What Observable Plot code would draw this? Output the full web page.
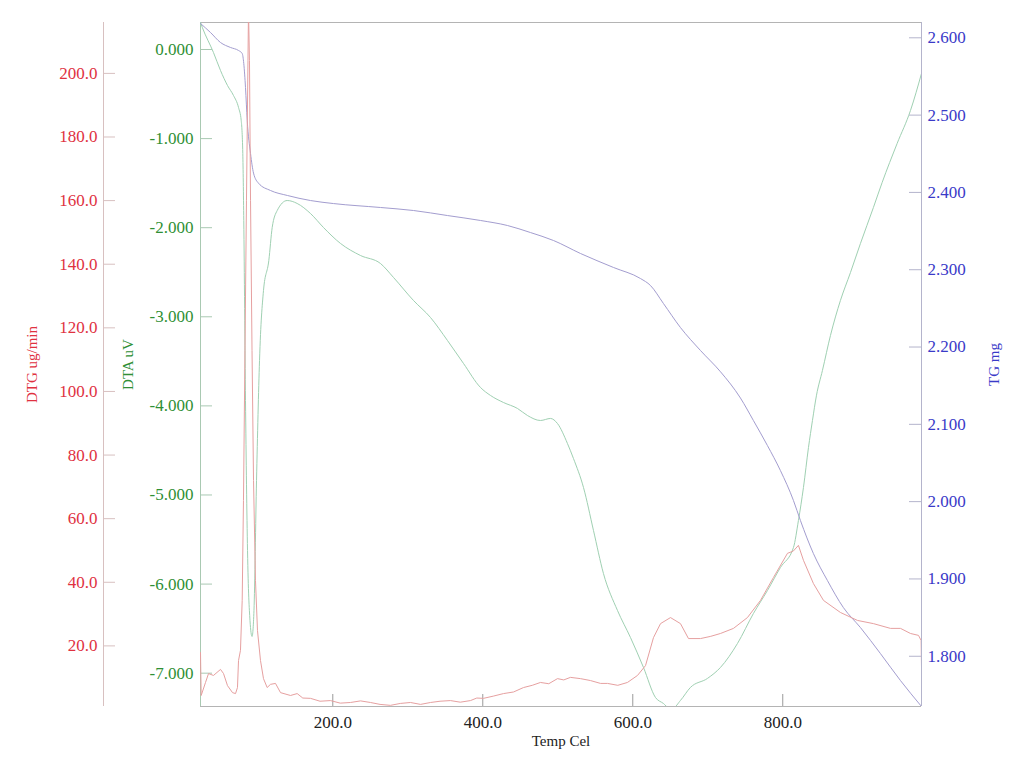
<!DOCTYPE html>
<html>
<head>
<meta charset="utf-8">
<script src="https://cdn.jsdelivr.net/npm/d3@7"></script>
<script src="https://cdn.jsdelivr.net/npm/@observablehq/plot@0.6"></script>
<style>
  html, body { margin: 0; padding: 0; background: #fff; }
  #chart { position: relative; width: 1024px; height: 766px; overflow: hidden; }
  #chart svg { position: absolute; left: 0; top: 0; }
</style>
</head>
<body>
<div id="chart"></div>
<script>
// ---------- data ----------
const xTicks = [200, 400, 600, 800];
const xDomain = [23.6, 985];

const dtgTicks = [20, 40, 60, 80, 100, 120, 140, 160, 180, 200];
const dtgDomain = [0.94, 216.0];
const dtaTicks = [0, -1, -2, -3, -4, -5, -6, -7];
const dtaDomain = [-7.374, 0.303];
const tgTicks = [1.8, 1.9, 2.0, 2.1, 2.2, 2.3, 2.4, 2.5, 2.6];
const tgDomain = [1.735, 2.6198];

// DTA (uV) vs temperature
const dtaTemp = [23.6, 25.9, 40.9, 50.3, 59.6, 67.6, 74.3, 77.9, 80.0, 81.3, 83.6, 86.3, 89.6, 92.3, 94.9, 98.3, 102.3, 107.6, 114.7, 119.2, 125.9, 139.2, 152.5, 170.3, 187.6, 210.3, 236.9, 263.6, 281.0, 307.6, 330.3, 352.9, 374.3, 396.9, 410.3, 427.6, 446.3, 459.6, 476.9, 490.3, 499.6, 512.9, 520.9, 534.3, 547.6, 560.9, 579.6, 596.9, 614.3, 630.3, 640.9, 647.6, 654.3, 663.6, 676.9, 699.6, 716.9, 739.6, 760.9, 779.6, 796.9, 814.3, 820.9, 827.6, 834.3, 839.6, 845.0, 852.9, 863.6, 876.9, 890.3, 903.6, 920.9, 932.5, 952.5, 970.3, 985];
const dtaVal = [0.303, 0.250, -0.034, -0.236, -0.404, -0.516, -0.651, -0.797, -1.167, -1.919, -3.939, -5.623, -6.409, -6.588, -6.296, -4.837, -3.490, -2.705, -2.368, -1.998, -1.807, -1.695, -1.728, -1.841, -1.998, -2.177, -2.312, -2.402, -2.559, -2.817, -3.008, -3.266, -3.524, -3.793, -3.883, -3.962, -4.029, -4.108, -4.164, -4.141, -4.198, -4.422, -4.590, -4.916, -5.398, -5.881, -6.296, -6.599, -6.936, -7.273, -7.340, -7.385, -7.385, -7.306, -7.160, -7.059, -6.936, -6.667, -6.330, -6.072, -5.814, -5.589, -5.286, -4.916, -4.467, -4.164, -3.880, -3.603, -3.210, -2.817, -2.503, -2.177, -1.773, -1.493, -1.055, -0.685, -0.269];

// TG (mg) vs temperature
const tgTemp = [23.6, 36.9, 50.3, 63.6, 74.3, 79.2, 81.3, 83.6, 85.9, 90.3, 94.3, 100.9, 116.9, 139.6, 170.3, 200.9, 263.6, 307.6, 352.9, 396.9, 432.9, 463.6, 494.3, 530.3, 574.3, 610.3, 623.6, 640.9, 663.6, 690.3, 717.0, 743.6, 760.9, 779.6, 796.9, 814.3, 823.6, 840.9, 859.6, 880.9, 903.6, 930.3, 957.0, 985];
const tgVal = [2.6185, 2.6069, 2.5939, 2.5875, 2.5836, 2.5797, 2.5668, 2.5357, 2.4931, 2.4504, 2.4250, 2.4120, 2.4025, 2.3960, 2.3895, 2.3856, 2.3805, 2.3766, 2.3701, 2.3637, 2.3572, 2.3481, 2.3378, 2.3210, 2.3029, 2.2886, 2.2796, 2.2563, 2.2252, 2.1955, 2.1680, 2.1340, 2.1049, 2.0725, 2.0402, 2.0014, 1.9755, 1.9328, 1.8979, 1.8629, 1.8371, 1.8034, 1.7685, 1.735];

// DTG (ug/min) vs temperature
const dtgTemp = [23.6, 24.5, 30.3, 34.3, 40.9, 50.3, 54.3, 59.6, 66.3, 70.3, 72.9, 74.3, 76.9, 79.2, 80.9, 82.9, 84.9, 86.9, 87.6, 88.9, 90.3, 92.3, 94.3, 96.9, 99.6, 103.6, 107.6, 112.5, 116.9, 123.6, 130.3, 143.6, 152.5, 160.0, 170.3, 183.0, 196.9, 210.0, 223.6, 237.0, 250.3, 263.0, 276.9, 290.0, 303.6, 317.0, 330.3, 343.0, 356.9, 370.0, 383.6, 392.0, 400.9, 414.0, 427.6, 441.0, 454.3, 466.0, 476.9, 488.0, 499.6, 508.0, 516.9, 530.3, 543.6, 557.0, 566.3, 580.0, 592.9, 606.3, 617.0, 627.6, 637.0, 650.3, 663.6, 674.3, 690.3, 704.0, 717.0, 734.3, 752.9, 770.3, 787.6, 806.3, 814.0, 820.9, 827.6, 840.9, 854.3, 876.9, 899.6, 920.9, 943.6, 957.0, 970.3, 981.0, 984.5, 985];
const dtgVal = [17.9, 4.4, 8.5, 11.3, 10.7, 12.6, 11.3, 7.5, 5.3, 5.0, 6.9, 15.4, 18.6, 34.3, 65.7, 112.9, 160.1, 204.1, 220.0, 204.1, 160.1, 112.9, 72.0, 40.6, 24.8, 15.4, 9.7, 6.9, 7.9, 8.2, 5.3, 4.4, 5.0, 3.6, 3.5, 2.6, 2.8, 2.0, 2.2, 2.7, 2.2, 1.6, 1.3, 1.9, 2.2, 1.6, 2.2, 2.6, 2.8, 2.3, 2.8, 3.6, 3.5, 4.2, 5.0, 5.5, 6.9, 7.6, 8.5, 8.1, 9.7, 9.3, 10.1, 9.7, 9.1, 8.2, 8.2, 7.6, 8.5, 10.7, 13.8, 22.6, 27.0, 28.9, 27.0, 22.3, 22.3, 23.0, 23.9, 25.5, 28.9, 34.3, 41.5, 49.1, 49.8, 51.6, 46.9, 39.6, 34.3, 30.5, 28.0, 27.0, 25.5, 25.5, 23.9, 23.3, 21.7, 13.2];

// ---------- layout ----------
const W = 1024, H = 766;
const M = {top: 22, right: 103, bottom: 60, left: 200};
const plotW = W - M.left - M.right;   // 721
const plotH = H - M.top - M.bottom;   // 684
const font = "Liberation Serif, DejaVu Serif, serif";
const tickFont = 17;

const rows = (xs, ys) => xs.map((t, i) => ({t, v: ys[i]}));

const base = {
  width: W, height: H,
  marginTop: M.top, marginRight: M.right, marginBottom: M.bottom, marginLeft: M.left,
  style: {background: "transparent", fontFamily: font, fontSize: "16px", overflow: "visible"}
};
const lblStyle = "letter-spacing:0.3px";

// ---------- Plot 1: frame, x axis, DTA ----------
const p1 = Plot.plot({
  ...base,
  x: {domain: xDomain, axis: null},
  y: {domain: dtaDomain, axis: null},
  marks: [
    Plot.ruleY([dtaDomain[1]], {stroke: "#b4b4b4"}),
    Plot.ruleY([dtaDomain[0]], {stroke: "#b4b4b4"}),
    Plot.ruleX([xDomain[0]], {stroke: "#a9c9b2"}),
    Plot.ruleY(dtaTicks, {stroke: "#a9c9b2", insetRight: plotW - 12}),
    Plot.text(dtaTicks, {y: d => d, frameAnchor: "left", dx: -7, textAnchor: "end", lineAnchor: "middle", text: d => d.toFixed(3), fill: "#2f8f35", fontSize: tickFont, style: lblStyle}),
    Plot.ruleX(xTicks, {stroke: "#9a9a9a", insetTop: plotH - 12}),
    Plot.text(xTicks, {x: d => d, frameAnchor: "bottom", dy: 16, textAnchor: "middle", lineAnchor: "middle", text: d => d.toFixed(1), fill: "#222", fontSize: tickFont, style: lblStyle}),
    Plot.text(["Temp Cel"], {frameAnchor: "bottom", dy: 35, textAnchor: "middle", lineAnchor: "middle", text: d => d, fill: "#222", fontSize: 15, style: "letter-spacing:2px"}),
    Plot.text(["DTA uV"], {frameAnchor: "left", dx: -72, rotate: -90, textAnchor: "middle", lineAnchor: "middle", text: d => d, fill: "#2f8f35", fontSize: 15}),
    Plot.line(rows(dtaTemp, dtaVal), {x: "t", y: "v", stroke: "#9fd0b2", strokeWidth: 1, curve: "monotone-x", clip: true})
  ]
});

// ---------- Plot 2: DTG ----------
const p2 = Plot.plot({
  ...base,
  x: {domain: xDomain, axis: null},
  y: {domain: dtgDomain, axis: null},
  marks: [
    Plot.ruleX([xDomain[0]], {stroke: "#d8c0c0", dx: -97}),
    Plot.ruleY(dtgTicks, {stroke: "#d8c0c0", dx: -97, insetRight: plotW - 12}),
    Plot.text(dtgTicks, {y: d => d, frameAnchor: "left", dx: -103, textAnchor: "end", lineAnchor: "middle", text: d => d.toFixed(1), fill: "#e0313f", fontSize: tickFont, style: lblStyle}),
    Plot.text(["DTG ug/min"], {frameAnchor: "left", dx: -168, rotate: -90, textAnchor: "middle", lineAnchor: "middle", text: d => d, fill: "#e0313f", fontSize: 15}),
    Plot.line(rows(dtgTemp, dtgVal), {x: "t", y: "v", stroke: "#e6a0a0", strokeWidth: 1, clip: true})
  ]
});

// ---------- Plot 3: TG ----------
const p3 = Plot.plot({
  ...base,
  x: {domain: xDomain, axis: null},
  y: {domain: tgDomain, axis: null},
  marks: [
    Plot.ruleX([xDomain[1]], {stroke: "#b4b4cc"}),
    Plot.ruleY(tgTicks, {stroke: "#b4b4cc", insetLeft: plotW - 12}),
    Plot.text(tgTicks, {y: d => d, frameAnchor: "right", dx: 6, textAnchor: "start", lineAnchor: "middle", text: d => d.toFixed(3), fill: "#3a3ac8", fontSize: tickFont, style: lblStyle}),
    Plot.text(["TG mg"], {frameAnchor: "right", dx: 73, rotate: -90, textAnchor: "middle", lineAnchor: "middle", text: d => d, fill: "#3a3ac8", fontSize: 15}),
    Plot.line(rows(tgTemp, tgVal), {x: "t", y: "v", stroke: "#a39dcf", strokeWidth: 1, curve: "monotone-x", clip: true})
  ]
});

const el = document.getElementById("chart");
el.append(p1, p3, p2);
</script>
</body>
</html>
